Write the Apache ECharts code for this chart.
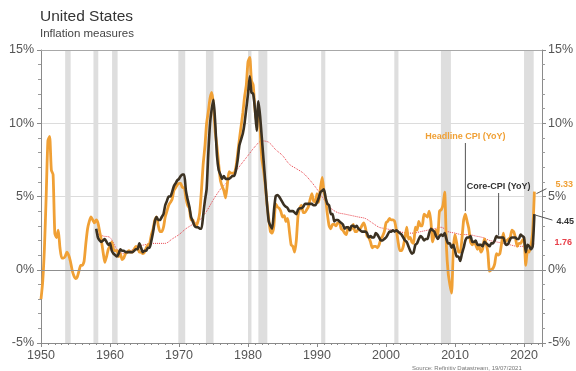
<!DOCTYPE html>
<html>
<head>
<meta charset="utf-8">
<script src="https://cdn.jsdelivr.net/npm/echarts@6/dist/echarts.min.js"></script>
<style>
  html, body { margin: 0; padding: 0; background: #fff; }
  #chart { width: 576px; height: 371px; }
</style>
</head>
<body>
<div id="chart"></div>
<script>
// quarterly readings, headline from 1950 Q1, core from 1958 Q1
const headlineStart = 1950;
const headlineCpi = [
  -2.0, -0.8, 1.5, 5.0,   8.8, 9.1, 6.8, 6.5,   2.5, 2.2, 2.7, 1.5,   0.8, 0.8, 0.9, 1.2,
  1.0, 0.6, 0.0, -0.4,    -0.6, -0.5, -0.1, 0.3, 0.3, 0.6, 1.8, 2.8,  3.3, 3.6, 3.4, 3.2,
  3.4, 3.2, 2.6, 2.0,     1.2, 0.5, 0.9, 1.4,   1.6, 1.9, 1.4, 1.3,   1.3, 0.9, 1.1, 0.7,
  0.8, 1.1, 1.2, 1.3,     1.2, 1.2, 1.4, 1.6,   1.5, 1.2, 1.2, 1.1,   1.2, 1.5, 1.7, 1.8,
  2.4, 2.8, 3.4, 3.6,     3.0, 2.6, 2.6, 2.9,   3.6, 4.0, 4.4, 4.6,   4.8, 5.4, 5.6, 5.8,
  5.9, 5.9, 5.6, 5.6,     4.9, 4.4, 4.2, 3.4,   3.4, 3.1, 3.0, 3.3,   3.9, 5.4, 7.2, 8.4,
  10.0, 10.8, 11.7, 12.1, 11.2, 9.4, 8.4, 7.2,  6.1, 5.7, 5.4, 4.9,   5.8, 6.7, 6.6, 6.6,
  6.6, 7.0, 7.9, 8.9,     9.8, 10.7, 11.8, 12.6, 14.2, 14.5, 12.9, 12.6, 11.0, 10.0, 10.9, 9.6,
  7.6, 6.8, 5.8, 4.5,     3.5, 2.6, 2.5, 3.0,   4.5, 4.3, 4.2, 4.0,   3.6, 3.7, 3.3, 3.5,
  2.6, 1.7, 1.6, 1.2,     2.0, 3.7, 4.2, 4.4,   3.9, 3.9, 4.1, 4.3,   4.8, 5.2, 4.7, 4.6,
  5.2, 4.6, 5.6, 6.3,     5.3, 4.8, 3.8, 3.0,   2.8, 3.1, 3.1, 3.0,   3.2, 3.2, 2.8, 2.7,
  2.5, 2.4, 2.9, 2.7,     2.8, 3.1, 2.6, 2.6,   2.8, 2.8, 3.0, 3.2,   2.9, 2.3, 2.2, 1.9,
  1.5, 1.6, 1.6, 1.5,     1.7, 2.1, 2.3, 2.6,   3.2, 3.3, 3.5, 3.4,   3.4, 3.3, 2.7, 1.9,
  1.3, 1.3, 1.6, 2.2,     2.9, 2.1, 2.2, 1.9,   1.8, 2.9, 2.7, 3.3,   3.0, 3.0, 3.8, 3.7,
  3.6, 4.0, 3.3, 1.9,     2.4, 2.7, 2.4, 4.0,   4.1, 4.4, 5.3, 1.6,   -0.2, -1.0, -1.6, 1.4,
  2.4, 1.8, 1.2, 1.2,     2.1, 3.4, 3.8, 3.3,   2.8, 1.9, 1.7, 1.9,   1.7, 1.4, 1.6, 1.2,
  1.4, 2.1, 1.8, 1.2,     -0.1, 0.0, 0.1, 0.4,  1.1, 1.0, 1.1, 1.8,   2.5, 1.9, 2.0, 2.1,
  2.2, 2.7, 2.6, 2.2,     1.6, 1.8, 1.8, 2.0,   2.1, 0.3, 1.3, 1.2,   1.7, 2.6, 5.33
];

const coreStart = 1958;
const coreCpi = [
  2.8, 2.2, 2.0, 1.9,   2.0, 2.1, 1.9, 1.7,   1.8, 1.3, 1.1, 1.0,   0.9, 1.1, 1.4, 1.3,
  1.3, 1.2, 1.2, 1.2,   1.2, 1.2, 1.3, 1.4,   1.4, 1.8, 1.5, 1.2,   1.3, 1.3, 1.5, 1.5,
  2.0, 2.6, 3.3, 3.6,   3.4, 3.4, 3.6, 3.8,   4.4, 4.7, 5.0, 5.0,   5.3, 5.7, 5.9, 6.1,
  6.2, 6.4, 6.5, 6.5,   5.4, 4.8, 4.3, 3.6,   3.3, 3.0, 2.9, 2.9,   2.8, 2.8, 3.7, 4.7,
  5.5, 8.0, 10.0, 11.0, 11.6, 10.0, 7.8, 6.8, 6.5, 6.2, 6.4, 6.2,   6.2, 6.2, 6.3, 6.4,
  6.4, 6.8, 7.5, 8.5,   8.9, 9.3, 10.0, 11.0, 12.0, 13.2, 12.1, 12.0, 11.0, 9.5, 11.5, 10.5,
  9.0, 7.5, 6.0, 4.5,   3.3, 3.0, 2.8, 4.0,   5.0, 5.1, 5.0, 4.8,   4.6, 4.4, 4.3, 4.2,
  4.0, 4.0, 4.0, 3.9,   3.8, 4.1, 4.2, 4.2,   4.3, 4.5, 4.5, 4.5,   4.5, 4.5, 4.4, 4.4,
  4.6, 4.9, 5.3, 5.4,   5.5, 4.9, 4.5, 4.4,   3.8, 3.8, 3.3, 3.4,   3.4, 3.3, 3.2, 3.1,
  2.8, 2.9, 2.9, 2.7,   3.0, 3.0, 2.9, 3.0,   2.8, 2.7, 2.6, 2.6,   2.6, 2.5, 2.2, 2.3,
  2.2, 2.2, 2.5, 2.4,   2.2, 2.0, 2.0, 2.1,   2.2, 2.4, 2.6, 2.6,   2.7, 2.6, 2.7, 2.6,
  2.5, 2.4, 2.2, 2.0,   1.9, 1.6, 1.3, 1.1,   1.2, 1.7, 1.8, 2.1,   2.3, 2.2, 2.0, 2.1,
  2.1, 2.5, 2.8, 2.7,   2.6, 2.3, 2.1, 2.3,   2.4, 2.3, 2.5, 2.1,   1.8, 1.8, 1.5, 1.7,
  1.3, 0.9, 0.9, 0.6,   1.1, 1.5, 2.0, 2.2,   2.2, 2.3, 1.9, 1.9,   2.0, 1.7, 1.7, 1.7,
  1.6, 1.9, 1.8, 1.7,   1.6, 1.8, 1.8, 2.0,   2.3, 2.2, 2.2, 2.2,   2.2, 1.8, 1.7, 1.8,
  2.1, 2.2, 2.2, 2.2,   2.1, 2.1, 2.4, 2.3,   2.2, 1.2, 1.7, 1.6,   1.4, 1.6, 3.8
];

// red dotted trend, yearly
const trendYears = [
  1958, 1959, 1960, 1961, 1962, 1963, 1964, 1965, 1966, 1967, 1968, 1969, 1970, 1971, 1972, 1973,
  1974, 1975, 1976, 1977, 1978, 1979, 1980, 1981, 1982, 1983, 1984, 1985, 1986, 1987, 1988, 1989,
  1990, 1991, 1992, 1993, 1994, 1995, 1996, 1997, 1998, 1999, 2000, 2001, 2002, 2003, 2004, 2005,
  2006, 2007, 2008, 2009, 2010, 2011, 2012, 2013, 2014, 2015, 2016, 2017, 2018, 2019, 2020, 2021.5
];
const trendValues = [
  2.5, 2.3, 2.2, 1.4, 1.1, 1.3, 1.6, 1.7, 1.8, 1.8, 1.8, 2.1, 2.4, 2.8, 3.1, 3.4,
  4.0, 4.8, 5.5, 6.0, 6.6, 7.2, 7.8, 8.4, 8.8, 8.7, 8.2, 7.8, 7.2, 6.9, 6.6, 6.1,
  5.5, 4.8, 4.2, 3.9, 3.8, 3.7, 3.6, 3.5, 3.2, 2.9, 2.8, 2.7, 2.6, 2.5, 2.5, 2.6,
  2.7, 2.8, 2.9, 2.6, 2.5, 2.4, 2.4, 2.3, 2.2, 2.0, 1.9, 1.8, 1.7, 1.6, 1.6, 1.76
];

const recessions = [
  [1953.5, 1954.3], [1957.6, 1958.3], [1960.3, 1961.1], [1969.9, 1970.9], [1973.9, 1975.0],
  [1980.0, 1980.5], [1981.5, 1982.8], [1990.6, 1991.2], [2001.2, 2001.8], [2007.95, 2009.4],
  [2020.0, 2021.4]
];

const endLabels = { headline: "5.33", core: "4.45", trend: "1.76" };

const FONT = "Liberation Sans";
const ORANGE = "#f0a035";
const DARK = "#3b3122";
const RED = "#e8404a";

const headlineData = headlineCpi.map((v, i) => [i === headlineCpi.length - 1 ? 2021.5 : headlineStart + i / 4, v]);
const coreData = coreCpi.map((v, i) => [i === coreCpi.length - 1 ? 2021.5 : coreStart + i / 4, v]);
const trendData = trendValues.map((v, i) => [trendYears[i], v]);

const chart = echarts.init(document.getElementById("chart"));

const yAxisBase = {
  type: "value",
  min: -5,
  max: 15,
  interval: 5,
  axisLine: { show: true, lineStyle: { color: "#8a8a8a" } },
  axisTick: { show: true, length: 4, lineStyle: { color: "#8a8a8a" } },
  minorTick: { show: true, splitNumber: 5, length: 3, lineStyle: { color: "#9a9a9a" } },
  axisLabel: { formatter: "{value}%", color: "#555", fontSize: 12.5, fontFamily: FONT, margin: 7 },
};

const option = {
  animation: false,
  textStyle: { fontFamily: FONT },
  title: {
    text: "United States",
    subtext: "Inflation measures",
    left: 35,
    top: 4,
    itemGap: 3,
    textStyle: { fontSize: 15.5, fontWeight: "normal", color: "#333", fontFamily: FONT },
    subtextStyle: { fontSize: 11.5, color: "#444", fontFamily: FONT },
  },
  grid: { left: 41, right: 33, top: 50, bottom: 28 },
  xAxis: {
    type: "value",
    min: 1950,
    max: 2022.6,
    interval: 10,
    axisLine: { onZero: false, lineStyle: { color: "#8a8a8a" } },
    axisTick: { show: true, length: 4, inside: false, lineStyle: { color: "#8a8a8a" } },
    minorTick: { show: true, splitNumber: 10, length: 2, lineStyle: { color: "#8a8a8a" } },
    splitLine: { show: false },
    axisLabel: {
      color: "#555",
      fontSize: 12.5,
      fontFamily: FONT,
      margin: 6,
      showMaxLabel: false,
      formatter: v => (v % 10 === 0 ? String(v) : ""),
    },
  },
  yAxis: [
    Object.assign({}, yAxisBase, {
      position: "left",
      splitLine: { show: true, lineStyle: { color: "#dcdcdc", width: 1 } },
    }),
    Object.assign({}, yAxisBase, {
      position: "right",
      splitLine: { show: false },
      axisLabel: Object.assign({}, yAxisBase.axisLabel, { margin: 6 }),
    }),
  ],
  series: [
    {
      name: "Recessions",
      type: "line",
      data: [],
      silent: true,
      z: 1,
      markArea: {
        silent: true,
        itemStyle: { color: "#dedede" },
        data: recessions.map(r => [{ xAxis: r[0] }, { xAxis: r[1] }]),
      },
      markLine: {
        silent: true,
        symbol: "none",
        label: { show: false },
        data: [
          { yAxis: 0, lineStyle: { color: "#8f8f8f", width: 1.2, type: "solid" } },
          { yAxis: 15, lineStyle: { color: "#a8a8a8", width: 1, type: "solid" } },
        ],
      },
    },
    {
      name: "Trend",
      type: "line",
      data: trendData,
      showSymbol: false,
      smooth: 0.3,
      z: 2,
      lineStyle: { color: RED, width: 1, type: "dotted" },
    },
    {
      name: "Headline CPI (YoY)",
      type: "line",
      data: headlineData,
      showSymbol: false,
      smooth: 0.2,
      z: 3,
      lineStyle: { color: ORANGE, width: 2.8 },
    },
    {
      name: "Core-CPI (YoY)",
      type: "line",
      data: coreData,
      showSymbol: false,
      smooth: 0.2,
      z: 4,
      lineStyle: { color: DARK, width: 2.6 },
    },
  ],
};

chart.setOption(option);

// annotations placed from data points
const px = p => chart.convertToPixel({ gridIndex: 0 }, p);
const headPeak = px(headlineData[(2011 - headlineStart) * 4 + 2]);
const corePt = px(coreData[(2016 - coreStart) * 4 + 3]);
const headEnd = px(headlineData[headlineData.length - 1]);
const coreEnd = px(coreData[coreData.length - 1]);
const trendEnd = px(trendData[trendData.length - 1]);

const labelFont = "bold 9px " + FONT;
const Z = 100;
chart.setOption({
  graphic: [
    { type: "text", z: Z, x: headPeak[0], y: 137, style: { text: "Headline CPI (YoY)", fill: ORANGE, font: labelFont, textAlign: "center", textVerticalAlign: "middle" } },
    { type: "line", z: Z, shape: { x1: headPeak[0], y1: 143, x2: headPeak[0], y2: headPeak[1] - 3 }, style: { stroke: "#555", lineWidth: 1 } },
    { type: "text", z: Z, x: corePt[0] - 3, y: 187, style: { text: "Core-CPI (YoY)", fill: "#333", font: labelFont, textAlign: "center", textVerticalAlign: "middle" } },
    { type: "line", z: Z, shape: { x1: corePt[0] - 3, y1: 193, x2: corePt[0] - 3, y2: corePt[1] - 2 }, style: { stroke: "#555", lineWidth: 1 } },
    { type: "line", z: Z, shape: { x1: headEnd[0] + 2, y1: headEnd[1] + 2, x2: headEnd[0] + 12, y2: headEnd[1] - 3 }, style: { stroke: "#555", lineWidth: 1 } },
    { type: "text", z: Z, x: headEnd[0] + 21, y: headEnd[1] - 7, style: { text: endLabels.headline, fill: ORANGE, font: labelFont, textVerticalAlign: "middle" } },
    { type: "line", z: Z, shape: { x1: coreEnd[0] + 1, y1: coreEnd[1] + 1, x2: coreEnd[0] + 18, y2: coreEnd[1] + 6 }, style: { stroke: "#555", lineWidth: 1 } },
    { type: "text", z: Z, x: coreEnd[0] + 22, y: coreEnd[1] + 7, style: { text: endLabels.core, fill: "#333", font: labelFont, textVerticalAlign: "middle" } },
    { type: "text", z: Z, x: trendEnd[0] + 20, y: trendEnd[1] - 1, style: { text: endLabels.trend, fill: RED, font: labelFont, textVerticalAlign: "middle" } },
    { type: "text", z: Z, x: 412, y: 368, style: { text: "Source: Refinitiv Datastream, 19/07/2021", fill: "#777", font: "6px " + FONT, textVerticalAlign: "middle" } },
  ],
});
</script>
</body>
</html>
